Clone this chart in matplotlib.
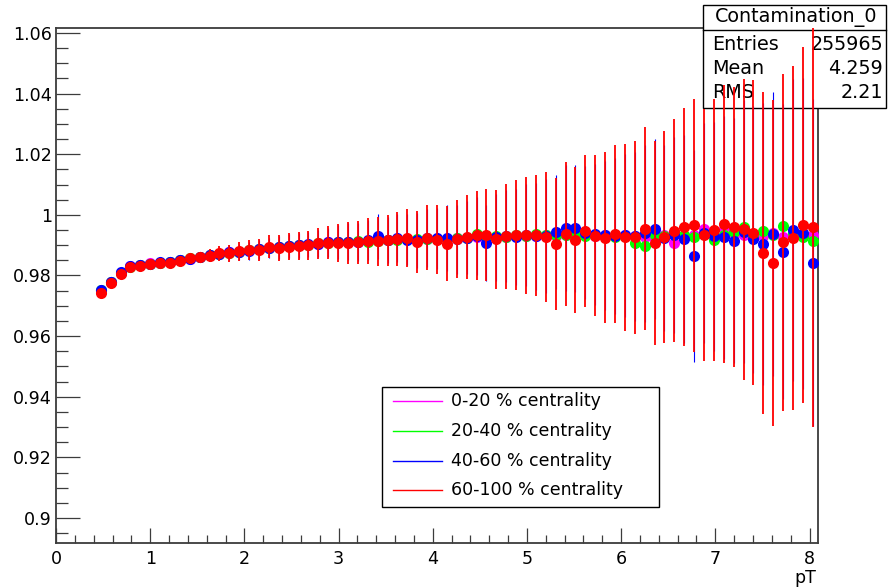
import numpy as np
import matplotlib.pyplot as plt
from matplotlib.patches import Rectangle
from matplotlib.lines import Line2D
from matplotlib.ticker import MultipleLocator, FormatStrFormatter

plt.rcParams['font.family'] = ['DejaVu Sans']

W, H = 888, 588

# pT binning of the histograms
pt_lo, pt_hi, n_bins = 0.4225, 8.0875, 73
pt_edges = np.linspace(pt_lo, pt_hi, n_bins + 1)
pt = 0.5 * (pt_edges[:-1] + pt_edges[1:])

labels = ['0-20 % centrality', '20-40 % centrality', '40-60 % centrality', '60-100 % centrality']
colors = ['#ff00ff', '#00ff00', '#0000ff', '#ff0000']
bar_widths = [0.8, 0.8, 0.8, 1.3]

cont_0_20 = [
    0.9750, 0.9777, 0.9808, 0.9830, 0.9834, 0.9840, 0.9841, 0.9845, 0.9851, 0.9856,
    0.9861, 0.9866, 0.9872, 0.9876, 0.9879, 0.9883, 0.9887, 0.9891, 0.9893, 0.9896,
    0.9899, 0.9902, 0.9905, 0.9909, 0.9909, 0.9911, 0.9912, 0.9914, 0.9916, 0.9917,
    0.9919, 0.9920, 0.9918, 0.9921, 0.9922, 0.9920, 0.9923, 0.9924, 0.9926, 0.9925,
    0.9927, 0.9928, 0.9929, 0.9930, 0.9929, 0.9932, 0.9931, 0.9933, 0.9932, 0.9934,
    0.9930, 0.9932, 0.9929, 0.9933, 0.9931, 0.9928, 0.9921, 0.9934, 0.9908, 0.9930,
    0.9935, 0.9955, 0.9933, 0.9955, 0.9935, 0.9932, 0.9925, 0.9930, 0.9940, 0.9926,
    0.9935, 0.9930, 0.9935]

cont_20_40 = [
    0.9753, 0.9779, 0.9809, 0.9829, 0.9835, 0.9838, 0.9842, 0.9846, 0.9850, 0.9857,
    0.9861, 0.9866, 0.9871, 0.9875, 0.9879, 0.9884, 0.9886, 0.9890, 0.9894, 0.9896,
    0.9900, 0.9902, 0.9906, 0.9907, 0.9910, 0.9910, 0.9913, 0.9912, 0.9915, 0.9918,
    0.9917, 0.9921, 0.9920, 0.9922, 0.9921, 0.9919, 0.9925, 0.9924, 0.9938, 0.9928,
    0.9930, 0.9926, 0.9933, 0.9929, 0.9936, 0.9934, 0.9932, 0.9935, 0.9938, 0.9930,
    0.9933, 0.9930, 0.9928, 0.9930, 0.9906, 0.9897, 0.9935, 0.9930, 0.9940, 0.9935,
    0.9926, 0.9938, 0.9917, 0.9935, 0.9945, 0.9961, 0.9929, 0.9948, 0.9932, 0.9963,
    0.9940, 0.9926, 0.9914]

cont_40_60 = [
    0.9751, 0.9778, 0.9810, 0.9831, 0.9836, 0.9839, 0.9843, 0.9845, 0.9851, 0.9856,
    0.9862, 0.9867, 0.9872, 0.9876, 0.9878, 0.9882, 0.9887, 0.9891, 0.9893, 0.9897,
    0.9899, 0.9903, 0.9905, 0.9910, 0.9910, 0.9912, 0.9911, 0.9916, 0.9929, 0.9917,
    0.9923, 0.9918, 0.9916, 0.9924, 0.9923, 0.9924, 0.9919, 0.9925, 0.9930, 0.9906,
    0.9926, 0.9931, 0.9928, 0.9935, 0.9929, 0.9930, 0.9944, 0.9958, 0.9956, 0.9941,
    0.9936, 0.9933, 0.9930, 0.9932, 0.9929, 0.9940, 0.9952, 0.9925, 0.9933, 0.9919,
    0.9864, 0.9940, 0.9929, 0.9926, 0.9915, 0.9945, 0.9919, 0.9904, 0.9937, 0.9878,
    0.9950, 0.9940, 0.9842]
err_40_60 = [
    0.0005, 0.0006, 0.0007, 0.0008, 0.0009, 0.0010, 0.0011, 0.0012, 0.0013, 0.0015,
    0.0017, 0.0019, 0.0021, 0.0024, 0.0027, 0.0030, 0.0031, 0.0033, 0.0037, 0.0040,
    0.0041, 0.0042, 0.0045, 0.0048, 0.0055, 0.0061, 0.0062, 0.0066, 0.0073, 0.0075,
    0.0079, 0.0084, 0.0090, 0.0095, 0.0100, 0.0108, 0.0113, 0.0120, 0.0129, 0.0125,
    0.0143, 0.0151, 0.0159, 0.0168, 0.0176, 0.0187, 0.0188, 0.0208, 0.0210, 0.0219,
    0.0232, 0.0246, 0.0256, 0.0270, 0.0278, 0.0292, 0.0297, 0.0307, 0.0323, 0.0343,
    0.0349, 0.0363, 0.0377, 0.0401, 0.0404, 0.0435, 0.0440, 0.0465, 0.0467, 0.0487,
    0.0497, 0.0513, 0.0540]

cont_60_100 = [
    0.9743, 0.9774, 0.9805, 0.9827, 0.9832, 0.9837, 0.9840, 0.9842, 0.9849, 0.9857,
    0.9860, 0.9865, 0.9873, 0.9873, 0.9880, 0.9884, 0.9884, 0.9895, 0.9891, 0.9895,
    0.9898, 0.9900, 0.9906, 0.9908, 0.9906, 0.9908, 0.9909, 0.9914, 0.9913, 0.9916,
    0.9920, 0.9923, 0.9911, 0.9925, 0.9918, 0.9905, 0.9920, 0.9927, 0.9932, 0.9935,
    0.9920, 0.9929, 0.9934, 0.9932, 0.9932, 0.9927, 0.9904, 0.9937, 0.9918, 0.9948,
    0.9931, 0.9925, 0.9937, 0.9926, 0.9926, 0.9955, 0.9907, 0.9927, 0.9948, 0.9959,
    0.9965, 0.9933, 0.9950, 0.9971, 0.9961, 0.9952, 0.9941, 0.9875, 0.9841, 0.9910,
    0.9923, 0.9968, 0.9961]
err_60_100 = [
    0.0006, 0.0007, 0.0008, 0.0009, 0.0010, 0.0011, 0.0012, 0.0013, 0.0015, 0.0017,
    0.0019, 0.0021, 0.0024, 0.0027, 0.0031, 0.0034, 0.0035, 0.0037, 0.0042, 0.0045,
    0.0047, 0.0048, 0.0051, 0.0055, 0.0063, 0.0069, 0.0070, 0.0075, 0.0081, 0.0085,
    0.0090, 0.0096, 0.0103, 0.0108, 0.0114, 0.0123, 0.0129, 0.0137, 0.0147, 0.0152,
    0.0163, 0.0172, 0.0181, 0.0192, 0.0201, 0.0214, 0.0217, 0.0238, 0.0241, 0.0251,
    0.0265, 0.0282, 0.0293, 0.0309, 0.0318, 0.0334, 0.0337, 0.0351, 0.0369, 0.0392,
    0.0418, 0.0415, 0.0431, 0.0459, 0.0462, 0.0497, 0.0503, 0.0531, 0.0539, 0.0556,
    0.0568, 0.0587, 0.0660]

stat_title = 'Contamination_0'
stat_names = ['Entries', 'Mean', 'RMS']
stat_values = ['255965', '4.259', '2.21']


def fx(px):
    return px / W


def fy(py):
    return 1 - py / H


fig = plt.figure(figsize=(W / 100, H / 100), dpi=100)
ax = fig.add_axes([fx(56), fy(543), (818 - 56) / W, (543 - 28) / H])

series = [(cont_0_20, None), (cont_20_40, None), (cont_40_60, err_40_60), (cont_60_100, err_60_100)]
for i, ((vals, errs), c, bw) in enumerate(zip(series, colors, bar_widths)):
    z = 4 + 2 * i
    if errs is not None:
        ax.errorbar(pt, vals, yerr=errs, fmt='none', ecolor=c, elinewidth=bw, zorder=z)
    ax.plot(pt, vals, 'o', color=c, ms=8, mew=0, zorder=z + 1)

# stats box (under the data, over the frame)
ax.add_patch(Rectangle((fx(703), fy(108)), (886 - 703) / W, (108 - 5) / H, transform=fig.transFigure,
                       facecolor='white', edgecolor='black', lw=1, zorder=3, clip_on=False))
ax.add_line(Line2D([fx(703), fx(886)], [fy(30), fy(30)], transform=fig.transFigure,
                   color='black', lw=1, zorder=3, clip_on=False))
ax.text(fx(796), fy(17), stat_title, transform=fig.transFigure, ha='center', va='center',
        fontsize=13.8, zorder=3.1)
for name, val, yy in zip(stat_names, stat_values, [44, 68, 93]):
    ax.text(fx(712), fy(yy), name, transform=fig.transFigure, ha='left', va='center',
            fontsize=13.8, zorder=3.1)
    ax.text(fx(883), fy(yy), val, transform=fig.transFigure, ha='right', va='center',
            fontsize=13.8, zorder=3.1)

ax.set_xlim(0, 8.09)
ax.set_ylim(0.89175, 1.06165)

for s in ax.spines.values():
    s.set_color('#3c3c3c')
    s.set_linewidth(1.3)
ax.xaxis.set_major_locator(MultipleLocator(1))
ax.xaxis.set_minor_locator(MultipleLocator(0.2))
ax.yaxis.set_major_locator(MultipleLocator(0.02))
ax.yaxis.set_minor_locator(MultipleLocator(0.005))
ax.yaxis.set_major_formatter(FormatStrFormatter('%g'))
ax.tick_params(axis='both', which='both', direction='in', color='#3c3c3c', width=0.9,
               labelsize=12.6, top=False, right=False)
ax.tick_params(axis='y', which='major', length=17.3, pad=3)
ax.tick_params(axis='y', which='minor', length=8.6)
ax.tick_params(axis='x', which='major', length=10.8, pad=5)
ax.tick_params(axis='x', which='minor', length=5.8)

fig.text(fx(816), fy(583), 'pT', ha='right', va='baseline', fontsize=12.5)

# legend box
fig.add_artist(Rectangle((fx(382), fy(507)), (659 - 382) / W, (507 - 387) / H, transform=fig.transFigure,
                         facecolor='white', edgecolor='black', lw=1))
for lab, c, yy in zip(labels, colors, [401, 431, 461, 490]):
    fig.add_artist(Line2D([fx(393), fx(442)], [fy(yy), fy(yy)], transform=fig.transFigure, color=c, lw=1))
    fig.text(fx(451), fy(yy), lab, ha='left', va='center', fontsize=12.5)

plt.savefig('out.png', dpi=100)
